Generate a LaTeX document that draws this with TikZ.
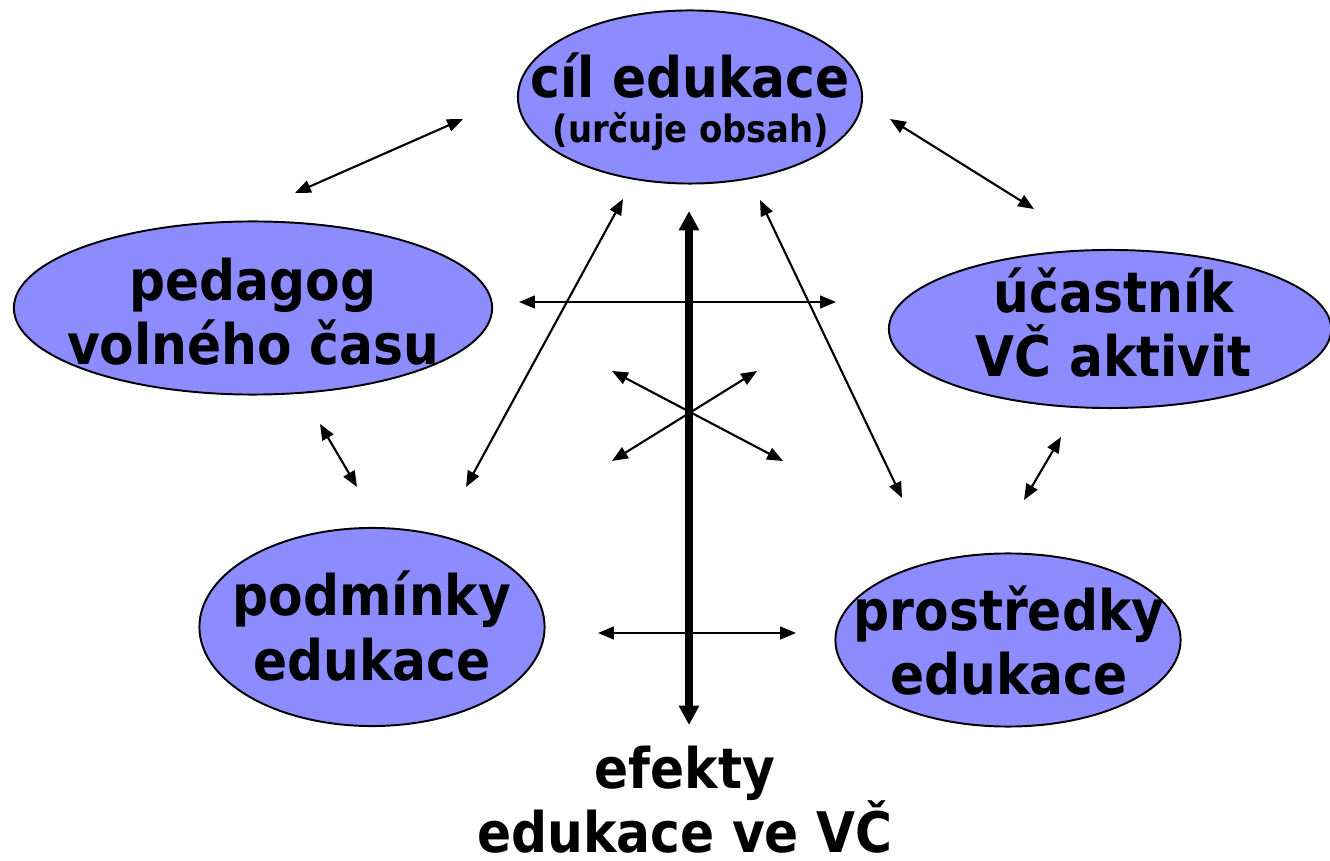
\documentclass[tikz,border=0pt]{standalone}
\usepackage{fontspec}
\setmainfont{DejaVu Sans Condensed}
\usetikzlibrary{arrows.meta,shapes.geometric}
\definecolor{lila}{RGB}{140,140,255}
\tikzset{
	topic/.style={
		% The shape:
		ellipse,inner sep=0pt,
		% The border and filling:
		draw=black,line width=0.55pt,fill=lila
	}}
\tikzset{
	txt/.style={
		% The text (base = baseline of the last line):
		inner sep=0pt,align=center,anchor=base,
		font=\fontsize{15.9}{18.2}\selectfont\bfseries
	}}
\tikzset{
	link/.style={
		{Triangle[length=4.5pt,width=3.6pt]}-{Triangle[length=4.5pt,width=3.6pt]},line width=0.6pt
	}}
\begin{document}
\begin{tikzpicture}[x=0.01cm,y=-0.01cm]
	\useasboundingbox (0,0) rectangle (1330,861);
	% the five ellipses
	\node[topic,minimum width=3.44cm,minimum height=1.73cm] (cil) at (690,97) {};
	\node[topic,minimum width=4.78cm,minimum height=1.73cm] (ped) at (253,308) {};
	\node[topic,minimum width=4.42cm,minimum height=1.58cm] (uca) at (1110,329) {};
	\node[topic,minimum width=3.45cm,minimum height=1.98cm] (pod) at (372,627) {};
	\node[topic,minimum width=3.45cm,minimum height=1.73cm] (pro) at (1008,640) {};
	% their texts
	\node[txt] (cil-t) at (690,98) {c\'il edukace};
	\node[txt,font=\fontsize{10.7}{13}\selectfont\bfseries] (cil-s) at (691,143) {(ur\v{c}uje obsah)};
	\node[txt] (ped-t) at (253,365) {pedagog\\voln\'eho \v{c}asu};
	\node[txt] (uca-t) at (1114,377) {\'u\v{c}astn\'ik\\V\v{C} aktivit};
	\node[txt] (pod-t) at (372,680) {podm\'inky\\edukace};
	\node[txt] (pro-t) at (1009,695) {prost\v{r}edky\\edukace};
	\node[txt] (efe) at (685,852) {efekty\\edukace ve V\v{C}};
	% arrow ends
	\coordinate (a1) at (295,193); \coordinate (b1) at (463,119);
	\coordinate (a2) at (890,119); \coordinate (b2) at (1034,209);
	\coordinate (a3) at (519,302); \coordinate (b3) at (836,302);
	\coordinate (a4) at (623,199); \coordinate (b4) at (466,487);
	\coordinate (a5) at (760,200); \coordinate (b5) at (902,498);
	\coordinate (a6) at (612,371); \coordinate (b6) at (783,461);
	\coordinate (a7) at (757,371); \coordinate (b7) at (612,461);
	\coordinate (a8) at (320,424); \coordinate (b8) at (357,487);
	\coordinate (a9) at (1061,437); \coordinate (b9) at (1024,500);
	\coordinate (a10) at (598,633); \coordinate (b10) at (796,633);
	\coordinate (top) at (689,211); \coordinate (bot) at (689,725);
	\draw[{Triangle[length=5.5pt,width=5.5pt]}-{Triangle[length=5.5pt,width=5.5pt]},line width=2.3pt] (top) -- (bot);
	\foreach \i in {1,...,10}
		\draw[link] (a\i) -- (b\i);
\end{tikzpicture}
\end{document}
